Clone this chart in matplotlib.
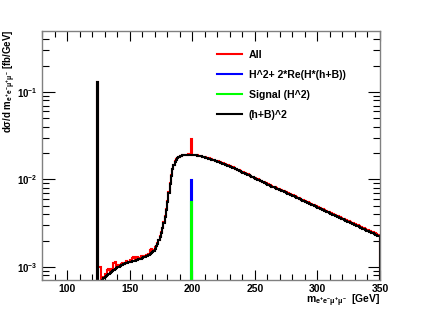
import numpy as np
import matplotlib
matplotlib.use("Agg")
import matplotlib.pyplot as plt
from matplotlib.lines import Line2D
from matplotlib.ticker import MultipleLocator, LogLocator, LogFormatterMathtext, NullFormatter

plt.rcParams['font.family'] = ['Liberation Sans', 'DejaVu Sans']
plt.rcParams['font.weight'] = 'bold'
plt.rcParams['mathtext.fontset'] = 'custom'
plt.rcParams['mathtext.rm'] = 'Liberation Sans:bold'
plt.rcParams['mathtext.it'] = 'Liberation Sans:bold'
plt.rcParams['mathtext.bf'] = 'Liberation Sans:bold'
plt.rcParams['mathtext.default'] = 'regular'

# ---- data: 1 GeV bins, centres 124.5 ... 349.5 GeV ----
bin_width = 1.0
bin_centres = np.arange(124.5, 350.0, bin_width)

h_bkg = [  # (h+B)^2  [fb/GeV]
    0.129, 6.0e-4, 6.3e-4, 6.7e-4, 7.1e-4, 7.4e-4, 7.6e-4, 7.8e-4, 8.0e-4, 8.3e-4,
    8.6e-4, 8.8e-4, 9.1e-4, 9.3e-4, 9.6e-4, 9.8e-4, 1.00e-3, 1.01e-3, 1.03e-3, 1.05e-3,
    1.06e-3, 1.08e-3, 1.10e-3, 1.11e-3, 1.12e-3, 1.135e-3, 1.14e-3, 1.15e-3, 1.16e-3, 1.16e-3,
    1.18e-3, 1.19e-3, 1.21e-3, 1.22e-3, 1.24e-3, 1.25e-3, 1.27e-3, 1.29e-3, 1.31e-3, 1.33e-3,
    1.35e-3, 1.37e-3, 1.40e-3, 1.43e-3, 1.48e-3, 1.54e-3, 1.62e-3, 1.72e-3, 1.85e-3, 2.02e-3,
    2.22e-3, 2.46e-3, 2.78e-3, 3.2e-3, 3.75e-3, 4.5e-3, 5.6e-3, 7.0e-3, 8.9e-3, 0.0110,
    0.0130, 0.0147, 0.0160, 0.0169, 0.0176, 0.0181, 0.0184, 0.0186, 0.0188, 0.0189,
    0.0190, 0.0191, 0.0191, 0.0192, 0.0192, 0.0192, 0.0191, 0.0191, 0.0190, 0.0189,
    0.0187, 0.0186, 0.0184, 0.0183, 0.0181, 0.0180, 0.0178, 0.0177, 0.0175, 0.0173,
    0.0171, 0.0169, 0.0167, 0.0165, 0.0163, 0.0161, 0.0160, 0.0158, 0.0156, 0.0154,
    0.0152, 0.0150, 0.0148, 0.0146, 0.0144, 0.0142, 0.0140, 0.0138, 0.0136, 0.0134,
    0.0132, 0.0130, 0.0128, 0.0126, 0.0124, 0.0122, 0.0120, 0.0118, 0.0116, 0.0114,
    0.0113, 0.0111, 0.0109, 0.0107, 0.0106, 0.0104, 0.0102, 0.0101, 0.0099, 0.0098,
    0.0096, 0.0095, 0.0093, 0.0092, 0.0090, 0.0089, 0.0087, 0.0086, 0.0085, 0.0083,
    0.0082, 0.0081, 0.0080, 0.0078, 0.0077, 0.0076, 0.0075, 0.0074, 0.0073, 0.0072,
    0.0071, 0.0070, 0.0069, 0.0068, 0.0067, 0.0066, 0.0065, 0.0064, 0.0063, 0.0062,
    0.0061, 0.0060, 0.00592, 0.00583, 0.00574, 0.00565, 0.00556, 0.00548, 0.00539, 0.00531,
    0.00523, 0.00515, 0.00507, 0.00499, 0.00491, 0.00484, 0.00476, 0.00469, 0.00462, 0.00455,
    0.00448, 0.00441, 0.00434, 0.00428, 0.00421, 0.00415, 0.00408, 0.00402, 0.00396, 0.00390,
    0.00384, 0.00378, 0.00372, 0.00366, 0.00361, 0.00355, 0.00350, 0.00344, 0.00339, 0.00334,
    0.00329, 0.00324, 0.00319, 0.00314, 0.00309, 0.00304, 0.00300, 0.00295, 0.00291, 0.00286,
    0.00282, 0.00278, 0.00274, 0.00269, 0.00265, 0.00261, 0.00257, 0.00253, 0.00250, 0.00246,
    0.00242, 0.00238, 0.00235, 0.00231, 0.00228, 0.00225,
]

h_all = [  # All
    0.129, 1.0e-3, 1.0e-3, 6.9e-4, 7.2e-4, 7.6e-4, 8.4e-4, 7.9e-4, 9.2e-4, 9.5e-4,
    8.7e-4, 9.0e-4, 9.6e-4, 1.10e-3, 1.15e-3, 1.00e-3, 1.02e-3, 1.06e-3, 1.02e-3, 1.07e-3,
    1.12e-3, 1.09e-3, 1.12e-3, 1.18e-3, 1.13e-3, 1.15e-3, 1.20e-3, 1.16e-3, 1.28e-3, 1.30e-3,
    1.24e-3, 1.21e-3, 1.29e-3, 1.23e-3, 1.26e-3, 1.32e-3, 1.28e-3, 1.34e-3, 1.32e-3, 1.36e-3,
    1.37e-3, 1.42e-3, 1.55e-3, 1.60e-3, 1.52e-3, 1.58e-3, 1.68e-3, 1.74e-3, 1.87e-3, 2.04e-3,
    2.25e-3, 2.48e-3, 2.80e-3, 3.25e-3, 3.78e-3, 4.55e-3, 5.7e-3, 7.1e-3, 9.0e-3, 0.0111,
    0.0131, 0.0148, 0.0161, 0.0170, 0.0177, 0.0182, 0.0185, 0.0187, 0.0189, 0.0190,
    0.0191, 0.0192, 0.0192, 0.0193, 0.0193, 0.0290, 0.0192, 0.0192, 0.0191, 0.0190,
    0.0188, 0.0187, 0.0185, 0.0184, 0.0182, 0.0181, 0.0179, 0.0178, 0.0176, 0.0174,
    0.0172, 0.0170, 0.0168, 0.0166, 0.0164, 0.0162, 0.0161, 0.0159, 0.0157, 0.0155,
    0.0153, 0.0151, 0.0149, 0.0147, 0.0145, 0.0143, 0.0141, 0.0139, 0.0137, 0.0135,
    0.0133, 0.0131, 0.0129, 0.0127, 0.0125, 0.0123, 0.0121, 0.0119, 0.0117, 0.0115,
    0.0114, 0.0112, 0.0110, 0.0108, 0.0107, 0.0105, 0.0103, 0.0102, 0.0100, 0.0099,
    0.0097, 0.0096, 0.0094, 0.0093, 0.0091, 0.0090, 0.0088, 0.0087, 0.0086, 0.0084,
    0.0083, 0.0082, 0.0081, 0.0079, 0.0078, 0.0077, 0.0076, 0.0075, 0.0074, 0.0073,
    0.0072, 0.0071, 0.0070, 0.0069, 0.0068, 0.0067, 0.0066, 0.0065, 0.0064, 0.0063,
    0.0062, 0.0061, 0.00600, 0.00590, 0.00581, 0.00572, 0.00563, 0.00555, 0.00546, 0.00538,
    0.00530, 0.00522, 0.00514, 0.00506, 0.00498, 0.00491, 0.00483, 0.00476, 0.00469, 0.00462,
    0.00455, 0.00448, 0.00441, 0.00435, 0.00428, 0.00422, 0.00415, 0.00409, 0.00403, 0.00397,
    0.00391, 0.00385, 0.00379, 0.00373, 0.00368, 0.00362, 0.00357, 0.00351, 0.00346, 0.00341,
    0.00336, 0.00331, 0.00326, 0.00321, 0.00316, 0.00311, 0.00307, 0.00302, 0.00298, 0.00293,
    0.00289, 0.00285, 0.00281, 0.00276, 0.00272, 0.00268, 0.00264, 0.00260, 0.00257, 0.00253,
    0.00249, 0.00245, 0.00242, 0.00238, 0.00235, 0.00232,
]

peak_centre = 199.5        # bin holding the heavy-Higgs line
interf_peak = 0.0098       # H^2 + 2*Re(H*(h+B))
signal_peak = 0.0056       # Signal (H^2)

h_interf = np.zeros(len(bin_centres))
h_interf[np.isclose(bin_centres, peak_centre)] = interf_peak
h_signal = np.zeros(len(bin_centres))
h_signal[np.isclose(bin_centres, peak_centre)] = signal_peak

labels = ["All", "H^2+ 2*Re(H*(h+B))", "Signal (H^2)", "(h+B)^2"]
colors = ["#ff0000", "#0000ff", "#00ff00", "#000000"]

# ---- figure ----
fig = plt.figure(figsize=(4.22, 3.11), dpi=100)
ax = fig.add_axes([42/422, 31/311, 338/422, 249/311])

ymin, ymax = 7.1e-4, 0.497
edges = np.append(bin_centres - bin_width/2, bin_centres[-1] + bin_width/2)

def step(vals):
    v = np.asarray(vals, dtype=float)
    v = np.where(v > 0, v, 1e-7)
    x = np.concatenate([[edges[0]], np.repeat(edges, 2)[1:-1], [edges[-1]]])
    y = np.concatenate([[1e-7], np.repeat(v, 2), [1e-7]])
    return x, y

series = [h_all, h_interf, h_signal, h_bkg]
for vals, c in zip(series, colors):
    x, y = step(vals)
    ax.plot(x, y, color=c, lw=1.5, solid_joinstyle='miter', solid_capstyle='butt')

ax.set_yscale('log')
ax.set_xlim(80, 350)
ax.set_ylim(ymin, ymax)

ax.xaxis.set_major_locator(MultipleLocator(50))
ax.xaxis.set_minor_locator(MultipleLocator(10))
ax.yaxis.set_major_locator(LogLocator(base=10))
ax.yaxis.set_minor_locator(LogLocator(base=10, subs=np.arange(2, 10)))
ax.yaxis.set_major_formatter(LogFormatterMathtext())
ax.yaxis.set_minor_formatter(NullFormatter())

def xfmt(v, pos):
    return "" if v < 90 else f"{int(round(v))}"
ax.xaxis.set_major_formatter(plt.FuncFormatter(xfmt))

ax.tick_params(which='both', direction='in', top=True, right=True, width=0.8, color='black')
ax.tick_params(axis='x', which='major', length=7, pad=3, labelsize=7.5)
ax.tick_params(axis='x', which='minor', length=4)
ax.tick_params(axis='y', which='major', length=9, pad=3.5, labelsize=7)
ax.tick_params(axis='y', which='minor', length=5)
for sp in ax.spines.values():
    sp.set_color('#808080')
    sp.set_linewidth(1.0)

# axis titles (ROOT style: aligned to axis ends)
fig.text(10/422, 1 - 30/311, "dσ/d m$_{e^{+}e^{-}μ^{+}μ^{-}}$ [fb/GeV]",
         rotation=90, ha='center', va='top', fontsize=7, fontweight='bold')
fig.text(380/422, 1 - 293/311, "m$_{e^{+}e^{-}μ^{+}μ^{-}}$  [GeV]",
         ha='right', va='top', fontsize=7.5, fontweight='bold')

handles = [Line2D([], [], color=c, lw=1.5) for c in colors]
ax.legend(handles, labels, loc='upper left', bbox_to_anchor=(217/422, 1 - 50/311),
          bbox_transform=fig.transFigure, frameon=False,
          borderpad=0, borderaxespad=0, handlelength=2.4, handletextpad=0.6,
          labelspacing=0.95, prop={'weight': 'bold', 'size': 7.6})

fig.savefig("out.png", dpi=100, facecolor='white')
